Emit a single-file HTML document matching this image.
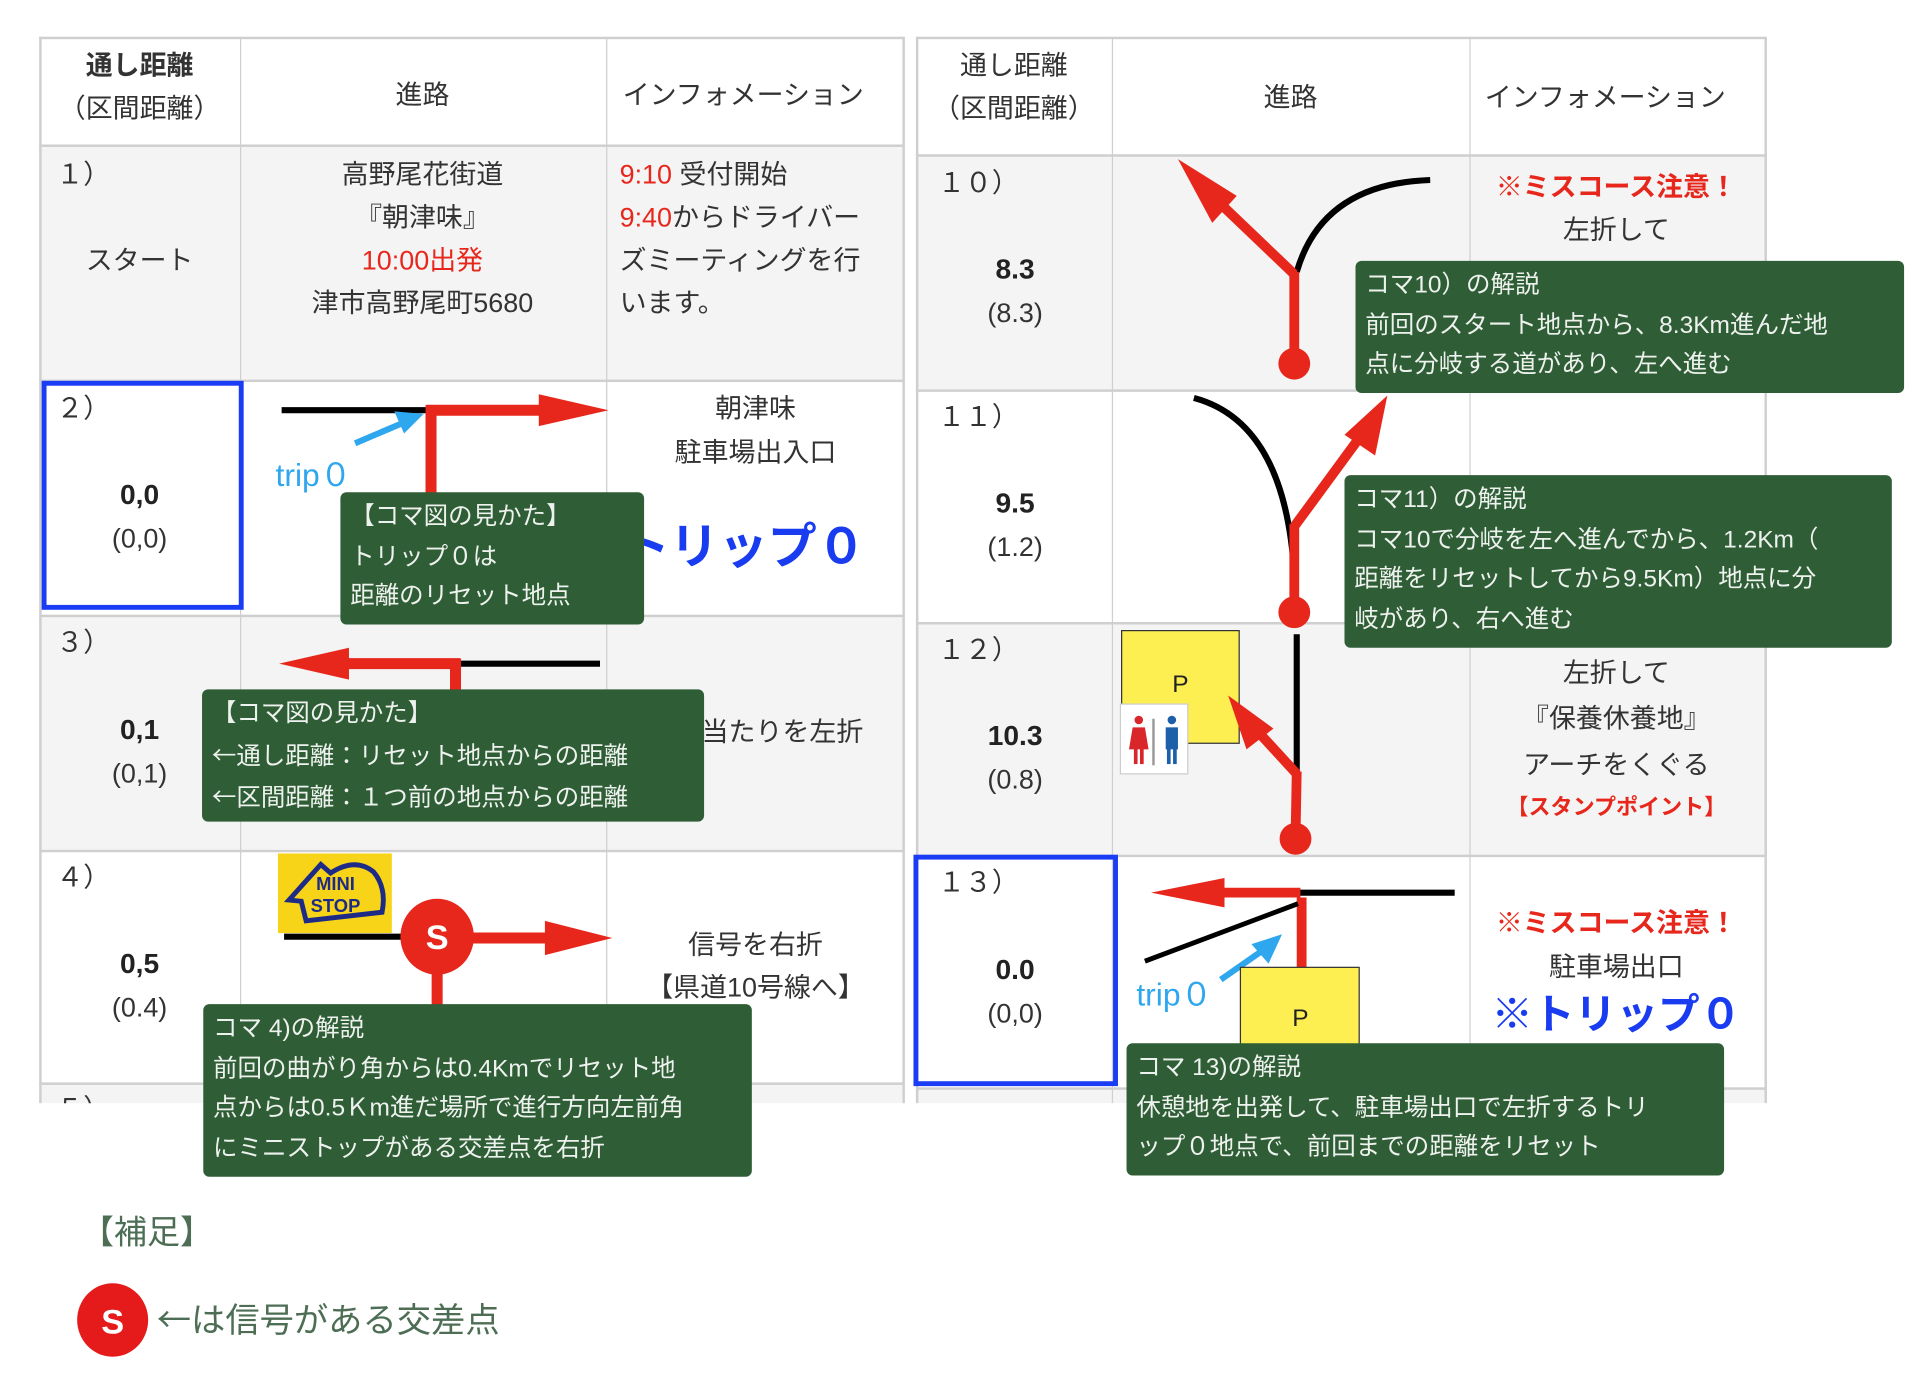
<!DOCTYPE html>
<html><head><meta charset="utf-8">
<style>
html,body{margin:0;padding:0;background:#fff;}
body{width:1920px;height:1380px;overflow:hidden;position:relative;}
#s{position:absolute;left:0;top:0;width:1568px;height:1127px;transform:scale(1.22449);transform-origin:0 0;font-family:"Liberation Sans","Noto Sans CJK JP",sans-serif;color:#333;}
.a{position:absolute;}
.t{position:absolute;white-space:nowrap;font-size:22px;line-height:1;transform:translate(-50%,-50%);}
.l{position:absolute;white-space:nowrap;font-size:22px;line-height:1;transform:translateY(-50%);}
.g{background:#f4f4f4;}
.bl{position:absolute;background:#cfcfcf;}
.c{position:absolute;background:#2f5d36;color:#eef2ee;border-radius:5px;font-size:20px;line-height:32.5px;padding:4px 0 0 8px;box-sizing:border-box;white-space:nowrap;}
.red{color:#e8271c;}
.blue{color:#1a3cf0;}
.n{font-weight:bold;color:#222;}
.j{font-family:"Noto Sans CJK JP",sans-serif;}
</style></head><body><div id="s">

<div class="a g" style="left:32px;top:118px;width:706px;height:192px"></div>
<div class="a g" style="left:32px;top:502px;width:706px;height:192px"></div>
<div class="a g" style="left:32px;top:885px;width:706px;height:16px"></div>
<div class="bl" style="left:32px;top:30px;width:706px;height:2px"></div>
<div class="bl" style="left:32px;top:118px;width:706px;height:2px"></div>
<div class="bl" style="left:32px;top:310px;width:706px;height:2px"></div>
<div class="bl" style="left:32px;top:502px;width:706px;height:2px"></div>
<div class="bl" style="left:32px;top:694px;width:706px;height:2px"></div>
<div class="bl" style="left:32px;top:884px;width:706px;height:2px"></div>
<div class="bl" style="left:32px;top:30px;width:2px;height:871px"></div>
<div class="bl" style="left:196px;top:30px;width:1px;height:871px"></div>
<div class="bl" style="left:495px;top:30px;width:1px;height:871px"></div>
<div class="bl" style="left:737px;top:30px;width:2px;height:871px"></div>

<div class="a g" style="left:748px;top:126px;width:694px;height:192px"></div>
<div class="a g" style="left:748px;top:508px;width:694px;height:190px"></div>
<div class="a g" style="left:748px;top:888px;width:694px;height:13px"></div>
<div class="bl" style="left:748px;top:30px;width:694px;height:2px"></div>
<div class="bl" style="left:748px;top:126px;width:694px;height:2px"></div>
<div class="bl" style="left:748px;top:318px;width:694px;height:2px"></div>
<div class="bl" style="left:748px;top:508px;width:694px;height:2px"></div>
<div class="bl" style="left:748px;top:698px;width:694px;height:2px"></div>
<div class="bl" style="left:748px;top:888px;width:694px;height:2px"></div>
<div class="bl" style="left:748px;top:30px;width:2px;height:871px"></div>
<div class="bl" style="left:908px;top:30px;width:1px;height:871px"></div>
<div class="bl" style="left:1200px;top:30px;width:1px;height:871px"></div>
<div class="bl" style="left:1441px;top:30px;width:2px;height:871px"></div>

<div class="a" style="left:34px;top:311px;width:165px;height:187px;border:4px solid #1a3cf5;box-sizing:border-box"></div>
<div class="a" style="left:746px;top:698px;width:167px;height:189px;border:4px solid #1a3cf5;box-sizing:border-box"></div>

<div class="t" style="left:114px;top:54px;font-weight:bold">通し距離</div>
<div class="t" style="left:114px;top:89px">（区間距離）</div>
<div class="t" style="left:345px;top:78px">進路</div>
<div class="t" style="left:607px;top:78px">インフォメーション</div>
<div class="l" style="left:46px;top:143px">１）</div>
<div class="t" style="left:114px;top:213px">スタート</div>
<div class="t" style="left:345px;top:143px">高野尾花街道</div>
<div class="t" style="left:345px;top:178px">『朝津味』</div>
<div class="t red" style="left:345px;top:213px">10:00出発</div>
<div class="t" style="left:345px;top:248px">津市高野尾町5680</div>
<div class="l" style="left:506px;top:143px"><span class="red">9:10</span> 受付開始</div>
<div class="l" style="left:506px;top:178px"><span class="red">9:40</span>からドライバー</div>
<div class="l" style="left:506px;top:213px">ズミーティングを行</div>
<div class="l" style="left:506px;top:248px">います。</div>
<div class="l" style="left:46px;top:334px">２）</div>
<div class="t n" style="left:114px;top:404px;font-size:23px">0,0</div>
<div class="t" style="left:114px;top:440px">(0,0)</div>
<div class="t" style="left:617px;top:334px">朝津味</div>
<div class="t" style="left:617px;top:370px">駐車場出入口</div>
<div class="t blue" style="left:607px;top:447px;font-size:40px;font-weight:bold">トリップ０</div>
<div class="l" style="left:225px;top:388px;font-size:26px;color:#2fa7ee">trip０</div>
<div class="l" style="left:46px;top:525px">３）</div>
<div class="t n" style="left:114px;top:596px;font-size:23px">0,1</div>
<div class="t" style="left:114px;top:632px">(0,1)</div>
<div class="t" style="left:617px;top:598px">突き当たりを左折</div>
<div class="l" style="left:46px;top:717px">４）</div>
<div class="t n" style="left:114px;top:787px;font-size:23px">0,5</div>
<div class="t" style="left:114px;top:823px">(0.4)</div>
<div class="t" style="left:617px;top:772px">信号を右折</div>
<div class="t" style="left:617px;top:807px">【県道10号線へ】</div>
<div class="l" style="left:46px;top:906px">５）</div>

<div class="t" style="left:828px;top:54px">通し距離</div>
<div class="t" style="left:828px;top:89px">（区間距離）</div>
<div class="t" style="left:1054px;top:80px">進路</div>
<div class="t" style="left:1311px;top:80px">インフォメーション</div>
<div class="l" style="left:766px;top:150px">１０）</div>
<div class="t n" style="left:829px;top:220px;font-size:23px">8.3</div>
<div class="t" style="left:829px;top:256px">(8.3)</div>
<div class="t red" style="left:1320px;top:153px;font-weight:bold">※ミスコース注意！</div>
<div class="t" style="left:1320px;top:188px">左折して</div>
<div class="l" style="left:766px;top:341px">１１）</div>
<div class="t n" style="left:829px;top:411px;font-size:23px">9.5</div>
<div class="t" style="left:829px;top:447px">(1.2)</div>
<div class="l" style="left:766px;top:531px">１２）</div>
<div class="t n" style="left:829px;top:601px;font-size:23px">10.3</div>
<div class="t" style="left:829px;top:637px">(0.8)</div>
<div class="t" style="left:1320px;top:550px">左折して</div>
<div class="t" style="left:1320px;top:587px">『保養休養地』</div>
<div class="t" style="left:1320px;top:625px">アーチをくぐる</div>
<div class="t red" style="left:1320px;top:659px;font-size:18px;font-weight:bold">【スタンプポイント】</div>
<div class="l" style="left:766px;top:721px">１３）</div>
<div class="t n" style="left:829px;top:792px;font-size:23px">0.0</div>
<div class="t" style="left:829px;top:828px">(0,0)</div>
<div class="t red" style="left:1320px;top:754px;font-weight:bold">※ミスコース注意！</div>
<div class="t" style="left:1320px;top:790px">駐車場出口</div>
<div class="t blue" style="left:1320px;top:829px;font-size:34px;font-weight:bold">※トリップ０</div>
<div class="l" style="left:928px;top:812px;font-size:26px;color:#2fa7ee">trip０</div>

<svg class="a" style="left:0;top:0" width="1568" height="1127" viewBox="0 0 1568 1127">
<line x1="230" y1="335" x2="350" y2="335" stroke="#000" stroke-width="5"/>
<line x1="352" y1="331" x2="352" y2="405" stroke="#e8271c" stroke-width="9"/>
<line x1="348" y1="335" x2="445" y2="335" stroke="#e8271c" stroke-width="9"/>
<polygon points="440,322 497,335 440,348" fill="#e8271c"/>
<line x1="290" y1="362" x2="330" y2="345" stroke="#2fa7ee" stroke-width="5"/>
<polygon points="322,336 346,338 330,354" fill="#2fa7ee"/>
<line x1="370" y1="542" x2="490" y2="542" stroke="#000" stroke-width="5"/>
<line x1="372" y1="538" x2="372" y2="566" stroke="#e8271c" stroke-width="9"/>
<line x1="376" y1="542" x2="280" y2="542" stroke="#e8271c" stroke-width="9"/>
<polygon points="285,529 228,542 285,555" fill="#e8271c"/>
<rect x="227" y="697" width="93" height="65" fill="#f7d417"/>
<path d="M236,735 L262,706 L270,713 Q290,700 305,712 Q316,725 312,745 L250,752 L246,736 Z" fill="none" stroke="#1d2b86" stroke-width="4"/>
<text x="274" y="727" font-family="Liberation Sans" font-weight="bold" font-size="15" fill="#1d2b86" text-anchor="middle">MINI</text>
<text x="274" y="745" font-family="Liberation Sans" font-weight="bold" font-size="15" fill="#1d2b86" text-anchor="middle">STOP</text>
<line x1="232" y1="765" x2="330" y2="765" stroke="#000" stroke-width="5"/>
<line x1="357" y1="790" x2="357" y2="822" stroke="#e8271c" stroke-width="9"/>
<line x1="385" y1="766" x2="450" y2="766" stroke="#e8271c" stroke-width="9"/>
<polygon points="445,752 500,766 445,780" fill="#e8271c"/>
<ellipse cx="357" cy="765" rx="30" ry="31" fill="#e8271c"/>
<text x="357" y="775" font-family="Liberation Sans" font-weight="bold" font-size="28" fill="#fff" text-anchor="middle">S</text>
<path d="M1059,222 Q1080,150 1168,147" fill="none" stroke="#000" stroke-width="5"/>
<line x1="1057" y1="297" x2="1057" y2="222" stroke="#e8271c" stroke-width="8"/>
<line x1="1057" y1="224" x2="990" y2="160" stroke="#e8271c" stroke-width="8"/>
<polygon points="962,130 1010,160 990,182" fill="#e8271c"/>
<circle cx="1057" cy="297" r="13" fill="#e8271c"/>
<path d="M975,325 Q1050,345 1057,470" fill="none" stroke="#000" stroke-width="5"/>
<line x1="1057" y1="500" x2="1057" y2="428" stroke="#e8271c" stroke-width="8"/>
<line x1="1057" y1="430" x2="1112" y2="355" stroke="#e8271c" stroke-width="8"/>
<polygon points="1133,323 1123,372 1098,355" fill="#e8271c"/>
<circle cx="1057" cy="500" r="13" fill="#e8271c"/>
<rect x="916" y="515" width="96" height="92" fill="#fdee52" stroke="#333" stroke-width="1"/>
<text x="964" y="565" font-family="Liberation Sans" font-size="20" fill="#222" text-anchor="middle">P</text>
<rect x="915" y="575" width="55" height="57" fill="#fff" stroke="#ccc" stroke-width="1"/>
<g fill="#d8262b"><circle cx="930" cy="588" r="3.5"/><polygon points="925,594 935,594 938,612 922,612"/><rect x="926" y="610" width="3" height="14"/><rect x="931" y="610" width="3" height="14"/></g>
<rect x="941" y="587" width="2" height="38" fill="#999"/>
<g fill="#1d5fa8"><circle cx="957" cy="588" r="3.5"/><rect x="952" y="594" width="10" height="18"/><rect x="953" y="610" width="3" height="14"/><rect x="958" y="610" width="3" height="14"/></g>
<line x1="1059" y1="518" x2="1059" y2="645" stroke="#000" stroke-width="5"/>
<line x1="1058" y1="685" x2="1059" y2="630" stroke="#e8271c" stroke-width="8"/>
<line x1="1059" y1="632" x2="1025" y2="595" stroke="#e8271c" stroke-width="8"/>
<polygon points="1003,568 1040,595 1018,612" fill="#e8271c"/>
<circle cx="1058" cy="685" r="13" fill="#e8271c"/>
<line x1="1060" y1="729" x2="1188" y2="729" stroke="#000" stroke-width="5"/>
<line x1="1063" y1="733" x2="1063" y2="792" stroke="#e8271c" stroke-width="8"/>
<line x1="1062" y1="729" x2="995" y2="729" stroke="#e8271c" stroke-width="8"/>
<polygon points="1000,717 940,729 1000,741" fill="#e8271c"/>
<line x1="935" y1="785" x2="1060" y2="738" stroke="#000" stroke-width="4"/>
<line x1="997" y1="800" x2="1030" y2="777" stroke="#2fa7ee" stroke-width="5"/>
<polygon points="1047,763 1036,787 1022,771" fill="#2fa7ee"/>
<rect x="1013" y="790" width="97" height="75" fill="#fdee52" stroke="#333" stroke-width="1"/>
<text x="1062" y="838" font-family="Liberation Sans" font-size="20" fill="#222" text-anchor="middle">P</text>
<ellipse cx="92" cy="1078" rx="29" ry="30" fill="#e51b1b"/>
<text x="92" y="1089" font-family="Liberation Sans" font-weight="bold" font-size="28" fill="#fff" text-anchor="middle">S</text>
</svg>

<!-- clip below table -->
<div class="a" style="left:0;top:901px;width:1460px;height:70px;background:#fff"></div>

<div class="c" style="left:278px;top:402px;width:248px;height:108px">【コマ図の見かた】<br>トリップ０は<br>距離のリセット地点</div>
<div class="c" style="left:165px;top:563px;width:410px;height:108px">【コマ図の見かた】<br><span class="j">←</span>通し距離：リセット地点からの距離<br><span class="j">←</span>区間距離：１つ前の地点からの距離</div>
<div class="c" style="left:166px;top:820px;width:448px;height:141px">コマ 4)の解説<br>前回の曲がり角からは0.4Kmでリセット地<br>点からは0.5Ｋm進だ場所で進行方向左前角<br>にミニストップがある交差点を右折</div>
<div class="c" style="left:1107px;top:213px;width:448px;height:108px">コマ10）の解説<br>前回のスタート地点から、8.3Km進んだ地<br>点に分岐する道があり、左へ進む</div>
<div class="c" style="left:1098px;top:388px;width:447px;height:141px">コマ11）の解説<br>コマ10で分岐を左へ進んでから、1.2Km（<br>距離をリセットしてから9.5Km）地点に分<br>岐があり、右へ進む</div>
<div class="c" style="left:920px;top:852px;width:488px;height:108px">コマ 13)の解説<br>休憩地を出発して、駐車場出口で左折するトリ<br>ップ０地点で、前回までの距離をリセット</div>

<div class="l" style="left:66px;top:1007px;font-size:27px;color:#4d6e55">【補足】</div>
<div class="l" style="left:128px;top:1078px;font-size:28px;color:#4d6e55"><span class="j">←</span>は信号がある交差点</div>

</div></body></html>
